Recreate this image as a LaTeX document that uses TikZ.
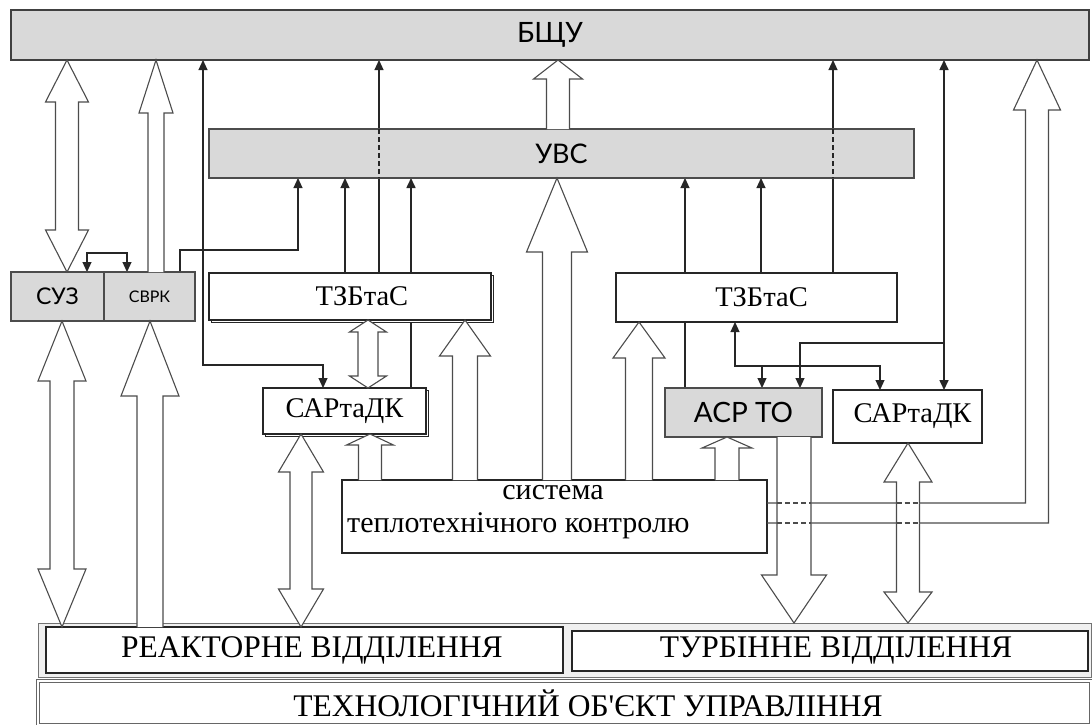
\documentclass[tikz,border=0pt]{standalone}
\usepackage{fontspec}
\setmainfont{Liberation Serif}
\newfontfamily\apos{Liberation Serif}[Ligatures=TeXOff]
\newfontfamily\gothic{Lato}
\usetikzlibrary{arrows.meta,calc,shadows}
\pgfdeclarelayer{bg}
\pgfsetlayers{bg,main}
\newcommand\sfnt[1]{\fontsize{#1}{#1}\selectfont}
\newcommand\gfnt[1]{\gothic\fontsize{#1}{#1}\selectfont}
% hollow single arrow: x, tail anchor, tip anchor, shaft half, head half, head length (signed)
\newcommand\hup[6]{%
  \coordinate (T) at (#1,0 |- #3);
  \coordinate (B) at (#1,0 |- #2);
  \draw[harrow] ($(B)+(-#4,0)$) -- ($(T)+(-#4,#6)$) -- ($(T)+(-#5,#6)$) -- (T)
     -- ($(T)+(#5,#6)$) -- ($(T)+(#4,#6)$) -- ($(B)+(#4,0)$);
}
% hollow double arrow: x, top anchor, bottom anchor, shaft half, head half, top head len, bottom head len
\newcommand\hboth[7]{%
  \coordinate (T) at (#1,0 |- #2);
  \coordinate (B) at (#1,0 |- #3);
  \draw[harrow] (T) -- ($(T)+(#5,#6)$) -- ($(T)+(#4,#6)$) -- ($(B)+(#4,-#7)$)
     -- ($(B)+(#5,-#7)$) -- (B) -- ($(B)+(-#5,-#7)$) -- ($(B)+(-#4,-#7)$)
     -- ($(T)+(-#4,#6)$) -- ($(T)+(-#5,#6)$) -- cycle;
}
\begin{document}
\begin{tikzpicture}[x=1pt,y=-1pt,
  box/.style={draw=black!85, line width=1.2pt, fill=white, inner sep=0pt, outer sep=0pt},
  gbox/.style={draw=black!70, line width=1.2pt, fill=gray!30, inner sep=0pt, outer sep=0pt},
  shbox/.style={box, copy shadow={shadow xshift=2.5pt, shadow yshift=-2.5pt}},
  harrow/.style={draw=black!70, line width=1.1pt, fill=white, line join=miter},
  tl/.style={draw=black!85, line width=1.1pt},
  dsh/.style={draw=black!85, line width=1.1pt, dash pattern=on 5pt off 3pt},
  >={Triangle[length=10pt,width=9pt]}]
\begin{pgfonlayer}{bg}
\fill[white] (0,0) rectangle (1092,724);
\end{pgfonlayer}
\useasboundingbox (0,0) rectangle (1092,724);

% ---- nodes
\node[gbox, line width=1.8pt, draw=black!75, minimum width=1078pt, minimum height=50pt, font=\gfnt{28}] (bshu) at (550,35) {БЩУ};
\node[gbox, minimum width=705pt, minimum height=49pt, font=\gfnt{27}] (uvs) at (561.5,153.5) {УВС};
\node[gbox, minimum width=93pt, minimum height=49pt, font=\gfnt{23}] (suz) at (57.5,296.5) {СУЗ};
\node[gbox, minimum width=91pt, minimum height=49pt, font=\gfnt{16}] (svrk) at (149.5,296.5) {СВРК};
\node[shbox, minimum width=282pt, minimum height=47pt, font=\sfnt{28.5}] (tz1) at (350,296.5) {\hspace*{24pt}ТЗБтаС};
\node[box, minimum width=281pt, minimum height=49pt, font=\sfnt{28.5}] (tz2) at (756.5,297.5) {\hspace*{10pt}ТЗБтаС};
\node[shbox, minimum width=163pt, minimum height=46pt, font=\sfnt{28.5}] (sar1) at (344.5,411) {САРтаДК};
\node[gbox, minimum width=157pt, minimum height=49pt, font=\gfnt{28}] (asr) at (743.5,412.5) {АСР ТО};
\node[box, minimum width=149pt, minimum height=53pt, font=\sfnt{28.5}] (sar2) at (907.5,416.5) {\hspace*{10pt}САРтаДК};
\node[box, minimum width=425pt, minimum height=73pt] (stk) at (554.5,516.5) {};
\node[font=\sfnt{30}, inner sep=0pt] (stk1) at (553,493) {система};
\node[font=\sfnt{30}, inner sep=0pt, anchor=west] (stk2) at (347,526) {теплотехнічного контролю};

\node[draw=black!55, line width=1pt, fill=gray!12, minimum width=1053pt, minimum height=54pt, inner sep=0pt, outer sep=0pt] (frame) at (564.5,650) {};
\node[box, minimum width=517pt, minimum height=46pt, font=\sfnt{31.5}] (reak) at (304.5,650) {\hspace*{15pt}РЕАКТОРНЕ ВІДДІЛЕННЯ};
\node[box, minimum width=516pt, minimum height=40pt, font=\sfnt{31.5}] (turb) at (830,651) {\hspace*{12pt}ТУРБІННЕ ВІДДІЛЕННЯ};
\node[box, draw=black!60, double=white, double distance=1.5pt, line width=0.8pt, minimum width=1053pt, minimum height=44pt, font=\sfnt{31.5}] (tech) at (564.5,703) {\hspace*{47pt}ТЕХНОЛОГІЧНИЙ ОБ{\apos '}ЄКТ УПРАВЛІННЯ};

% ---- thin connectors (behind boxes)
\coordinate (j1) at (944,343);
\coordinate (j2) at (762,366);
\begin{pgfonlayer}{bg}
\draw[tl,<->] (323,0 |- sar1.north) -- (323,365) -- (203,365) -- (203,0 |- bshu.south);
\draw[tl,->] (180,0 |- svrk.north) -- (180,250) -- (298,250) -- (298,0 |- uvs.south);
\draw[tl,<->] (87,0 |- suz.north) -- (87,253) -- (127,253) -- (127,0 |- svrk.north);
\draw[tl,->] (345,0 |- tz1.north) -- (345,0 |- uvs.south);
\draw[tl,->] (379,0 |- tz1.north) -- (379,0 |- bshu.south);
\draw[tl,line width=1.6pt,->] (411,0 |- sar1.north) -- (411,0 |- uvs.south);
\draw[tl,->] (685,0 |- asr.north) -- (685,0 |- uvs.south);
\draw[tl,->] (761,0 |- tz2.north) -- (761,0 |- uvs.south);
\draw[tl,->] (833,0 |- tz2.north) -- (833,0 |- bshu.south);
\draw[tl,line width=1.6pt,<->] (944,0 |- sar2.north) -- (944,0 |- bshu.south);
\draw[tl,->] (j1) -- (800,343) -- (800,0 |- asr.north);
\draw[tl,<->] (735,0 |- tz2.south) -- (735,366) -- (880,366) -- (880,0 |- sar2.north);
\draw[tl,->] (j2) -- (762,0 |- asr.north);
\end{pgfonlayer}
\draw[dsh] (379,0 |- uvs.north) -- (379,0 |- uvs.south);
\draw[dsh] (833,0 |- uvs.north) -- (833,0 |- uvs.south);

% ---- L-shaped hollow arrow from system box to БЩУ
\coordinate (LT) at (1037,0 |- bshu.south);
\draw[harrow, fill=none] (stk.east |- 0,503) -- (1025.5,503) -- (1025.5,110) -- (1013.5,110) -- (LT)
  -- (1060.5,110) -- (1048.5,110) -- (1048.5,523) -- (stk.east |- 0,523);

% ---- hollow arrows
\hboth{67}{bshu.south}{suz.north}{11.5}{21.5}{42}{42}
\hup{156}{svrk.north}{bshu.south}{8}{17}{53}
\hboth{62}{suz.south}{reak.north}{12}{24}{60}{58}
\hup{150}{reak.north}{svrk.south}{13}{29}{75}
\hboth{301}{sar1.south}{reak.north}{11}{22.5}{38}{38}
\hboth{368}{tz1.south}{sar1.north}{10}{18.5}{12}{12}
\hup{370}{stk.north}{sar1.south}{11.5}{23.5}{11}
\hup{465}{stk.north}{tz1.south}{12.5}{25.5}{36}
\hup{557}{stk.north}{uvs.south}{14.5}{30.5}{74}
\hup{558}{uvs.north}{bshu.south}{11.5}{24.5}{19}
\hup{639}{stk.north}{tz2.south}{13.5}{26}{36}
\hup{727}{stk.north}{asr.south}{12}{25}{11}
\hup{794}{asr.south}{frame.north}{17}{32.5}{-48}
\hboth{908}{sar2.south}{frame.north}{11.5}{24}{39}{31}

% dashed parts of the L-arrow where it passes the vertical arrows
\draw[harrow, dash pattern=on 5pt off 3pt] (777,503) -- (811,503) (896.5,503) -- (919.5,503)
  (777,523) -- (811,523) (896.5,523) -- (919.5,523);
\end{tikzpicture}
\end{document}
